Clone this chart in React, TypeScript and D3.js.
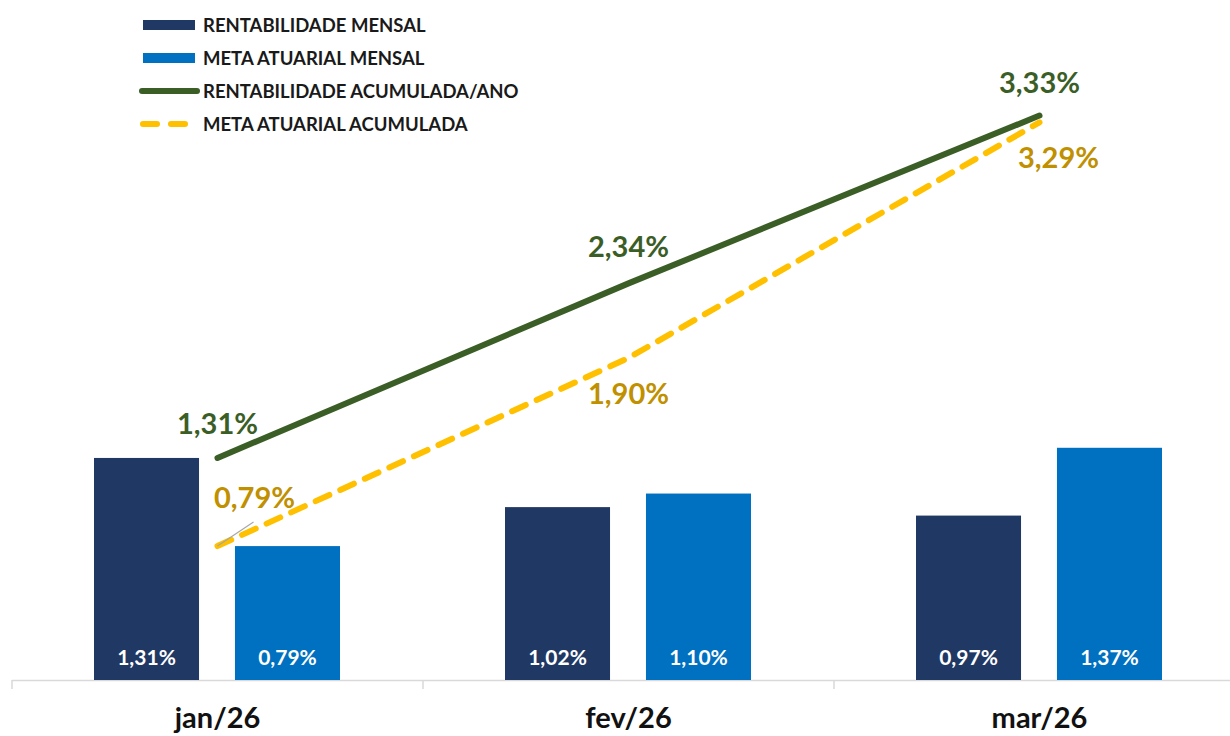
import React from "react";
import * as d3 from "d3";

const categories = ["jan/26", "fev/26", "mar/26"];
const rentabilidadeMensal = [1.31, 1.02, 0.97];
const metaMensal = [0.79, 1.1, 1.37];
const rentabilidadeAcum = [1.31, 2.34, 3.33];
const metaAcum = [0.79, 1.9, 3.29];
const legendLabels = [
  "RENTABILIDADE MENSAL",
  "META ATUARIAL MENSAL",
  "RENTABILIDADE ACUMULADA/ANO",
  "META ATUARIAL ACUMULADA",
];

const W = 1230;
const H = 736;
const FONT = "Lato, 'Open Sans', sans-serif";
const C_DARK = "#203864";
const C_LIGHT = "#0070C0";
const C_GREEN = "#3B5E27";
const C_YELLOW = "#FFC000";
const C_GOLD = "#C09000";

const fmt = (v: number) => v.toFixed(2).replace(".", ",") + "%";

export default function App() {
  const x = d3.scaleBand<string>().domain(categories).range([12, 1245]).paddingInner(0).paddingOuter(0);
  const inner = d3.scaleBand<string>().domain(["r", "m"]).range([82, 328]).paddingInner(0.255);
  const y = d3.scaleLinear().domain([0, 4]).range([680, 2]);
  const cx = (c: string) => (x(c) as number) + x.bandwidth() / 2;

  const line = d3
    .line<number>()
    .x((_, i) => cx(categories[i]))
    .y((d) => y(d));

  const greenOffsets = [
    { dx: 0, dy: -24 },
    { dx: 0, dy: -26 },
    { dx: 0, dy: -23 },
  ];
  const goldOffsets = [
    { dx: 37, dy: -38 },
    { dx: 0, dy: 46 },
    { dx: 19, dy: 46 },
  ];

  const ticks = categories.map((c) => x(c) as number).concat([(x(categories[2]) as number) + x.bandwidth()]);

  return (
    <svg
      width={W}
      height={H}
      style={{ position: "absolute", left: 0, top: 0, background: "#fff" }}
      fontFamily={FONT}
    >
      <rect x={0} y={0} width={W} height={H} fill="#fff" />
      {/* axis */}
      <line x1={12} x2={W} y1={y(0) + 0.5} y2={y(0) + 0.5} stroke="#d9d9d9" strokeWidth={1.5} />
      {ticks.map((t, i) => (
        <line key={i} x1={t} x2={t} y1={y(0)} y2={y(0) + 9} stroke="#d9d9d9" strokeWidth={1.5} />
      ))}
      {/* bars */}
      {categories.map((c, i) => {
        const x0 = x(c) as number;
        const bars = [
          { k: "r", v: rentabilidadeMensal[i], col: C_DARK },
          { k: "m", v: metaMensal[i], col: C_LIGHT },
        ];
        return (
          <g key={c}>
            {bars.map((b) => (
              <g key={b.k}>
                <rect
                  x={x0 + (inner(b.k) as number)}
                  y={y(b.v)}
                  width={inner.bandwidth()}
                  height={y(0) - y(b.v)}
                  fill={b.col}
                />
                <text
                  x={x0 + (inner(b.k) as number) + inner.bandwidth() / 2}
                  y={y(0) - 15}
                  textAnchor="middle"
                  fill="#fff"
                  fontSize={21}
                  fontWeight={700}
                >
                  {fmt(b.v)}
                </text>
              </g>
            ))}
            <text x={cx(c)} y={728} textAnchor="middle" fill="#111" fontSize={29} fontWeight={700}>
              {c}
            </text>
          </g>
        );
      })}
      {/* lines */}
      <path d={line(rentabilidadeAcum) || ""} fill="none" stroke={C_GREEN} strokeWidth={6} strokeLinecap="round" />
      <path
        d={line(metaAcum) || ""}
        fill="none"
        stroke={C_YELLOW}
        strokeWidth={6}
        strokeDasharray="15 12"
        strokeLinecap="round"
      />
      {/* leader line */}
      <line
        x1={cx(categories[0])}
        y1={y(metaAcum[0])}
        x2={cx(categories[0]) + 36}
        y2={y(metaAcum[0]) - 24}
        stroke="#a6a6a6"
        strokeWidth={1.2}
      />
      {/* line labels */}
      {rentabilidadeAcum.map((v, i) => (
        <text
          key={"g" + i}
          x={cx(categories[i]) + greenOffsets[i].dx}
          y={y(v) + greenOffsets[i].dy}
          textAnchor="middle"
          fill={C_GREEN}
          fontSize={29}
          fontWeight={700}
        >
          {fmt(v)}
        </text>
      ))}
      {metaAcum.map((v, i) => (
        <text
          key={"y" + i}
          x={cx(categories[i]) + goldOffsets[i].dx}
          y={y(v) + goldOffsets[i].dy}
          textAnchor="middle"
          fill={C_GOLD}
          fontSize={29}
          fontWeight={700}
        >
          {fmt(v)}
        </text>
      ))}
      {/* legend */}
      {legendLabels.map((l, i) => {
        const ly = 25 + i * 33;
        let sw: React.ReactNode;
        if (i === 0 || i === 1) {
          sw = <rect x={143} y={ly - 5} width={52} height={10} fill={i === 0 ? C_DARK : C_LIGHT} />;
        } else if (i === 2) {
          sw = <line x1={142} x2={197} y1={ly} y2={ly} stroke={C_GREEN} strokeWidth={6} strokeLinecap="round" />;
        } else {
          sw = (
            <line
              x1={143}
              x2={190}
              y1={ly}
              y2={ly}
              stroke={C_YELLOW}
              strokeWidth={6}
              strokeDasharray="14 14"
              strokeLinecap="round"
            />
          );
        }
        return (
          <g key={l}>
            {sw}
            <text x={203} y={ly + 6.5} fill="#1a1a1a" fontSize={18.5} fontWeight={700}>
              {l}
            </text>
          </g>
        );
      })}
    </svg>
  );
}
